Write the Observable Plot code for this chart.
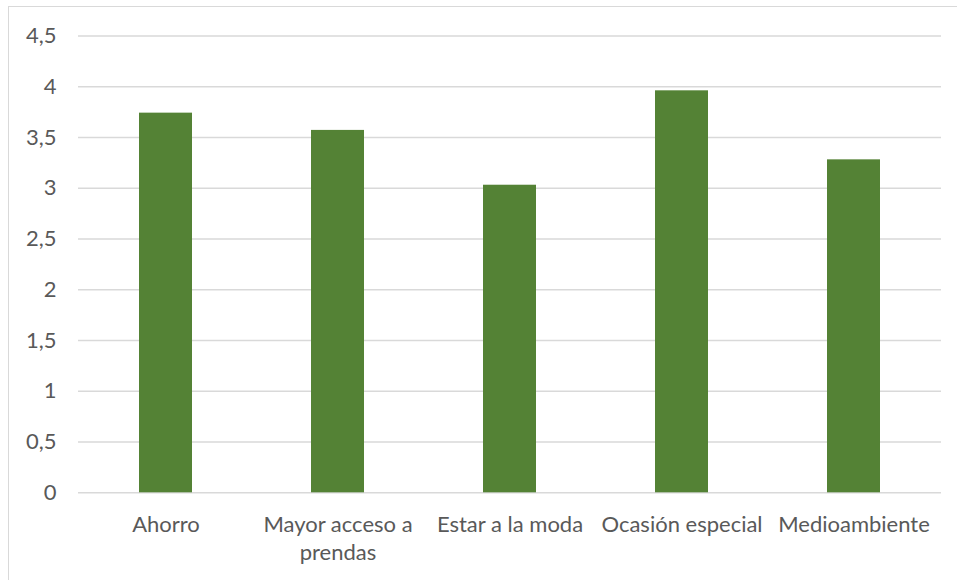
<!DOCTYPE html>
<html>
<head>
<meta charset="utf-8">
<script src="https://cdn.jsdelivr.net/npm/d3@7"></script>
<script src="https://cdn.jsdelivr.net/npm/@observablehq/plot@0.6"></script>
<style>
  html, body { margin: 0; padding: 0; background: #fff; }
  #wrap { position: relative; width: 957px; height: 580px; overflow: hidden; }
  #frame { position: absolute; left: 7.5px; top: 5.5px; width: 2000px; height: 2000px;
           border-left: 1.5px solid #d9d9d9; border-top: 1.5px solid #d9d9d9; }
  #chart { position: absolute; left: 0; top: 0; }
</style>
</head>
<body>
<div id="wrap"><div id="frame"></div><div id="chart"></div></div>
<script>
const categories = ["Ahorro", "Mayor acceso a prendas", "Estar a la moda", "Ocasión especial", "Medioambiente"];
const labels = ["Ahorro", "Mayor acceso a\nprendas", "Estar a la moda", "Ocasión especial", "Medioambiente"];
const values = [3.74, 3.57, 3.03, 3.96, 3.28];
const yTicks = [0, 0.5, 1, 1.5, 2, 2.5, 3, 3.5, 4, 4.5];

const data = categories.map((c, i) => ({ category: c, value: values[i] }));
const labelOf = new Map(categories.map((c, i) => [c, labels[i]]));

const chart = Plot.plot({
  width: 957,
  height: 580,
  marginLeft: 78,
  marginRight: 16,
  marginTop: 35.5,
  marginBottom: 87.7,
  style: { fontFamily: "Lato, sans-serif", color: "#595959", background: "transparent", overflow: "visible" },
  x: { domain: categories, paddingInner: 0.69, paddingOuter: 0.345, axis: null },
  y: { domain: [0, 4.5], axis: null },
  marks: [
    Plot.ruleY(yTicks, { stroke: "#d9d9d9", strokeWidth: 1.6 }),
    Plot.barY(data, { x: "category", y: "value", fill: "#548235" }),
    Plot.axisY({ ticks: yTicks, tickSize: 0, tickPadding: 22, fontSize: 22,
                 tickFormat: d => String(d).replace(".", ","), label: null }),
    Plot.axisX({ tickSize: 0, tickPadding: 19, fontSize: 22, lineHeight: 1.27,
                 tickFormat: d => labelOf.get(d), label: null })
  ]
});
document.getElementById("chart").appendChild(chart);
</script>
</body>
</html>
